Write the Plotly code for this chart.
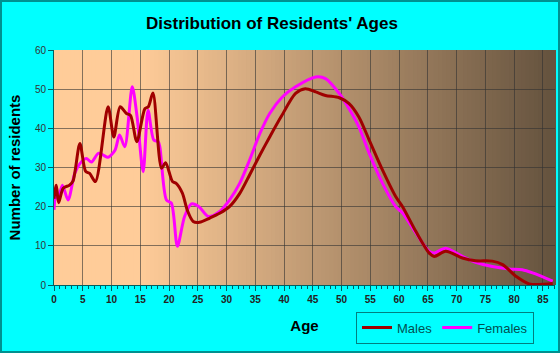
import plotly.graph_objects as go

title_text = "Distribution of Residents' Ages"
x_title = "Age"
y_title = "Number of residents"
x_ticks = list(range(0, 90, 5))
y_ticks = list(range(0, 70, 10))

male_age = [0, 0.4, 0.8, 1.6, 2.7, 3.3, 4.5, 5.5, 6.2, 7.2, 9.4, 10.4, 11.5, 12.6, 13.3,
            14.4, 15.8, 16.4, 17.2, 18.7, 19.4, 20.6, 21.2, 22.3, 23.2, 24.2, 25.3, 27.1,
            28.8, 30.5, 32.3, 34.0, 35.8, 37.5, 39.5, 42.0, 43.7, 45.5, 47.2, 49.6, 51.3,
            53.0, 54.8, 57.1, 59.4, 60.6, 62.9, 65.2, 66.1, 68.1, 71.0, 73.3, 76.2, 78.0,
            80.3, 82.6, 86.7]
male_val = [22, 25.5, 21, 24.7, 25.5, 26.5, 36.1, 29, 28.5, 26.4, 45.5, 37.8, 45.5, 43.8, 43.3,
            36.6, 45, 45.5, 49, 29.8, 31.2, 26.4, 26, 23.5, 19, 16.2, 16, 17.1,
            18.3, 20, 23.4, 28.1, 33.2, 37.8, 43, 48.9, 50.1, 49.3, 48.4, 47.8, 46.3,
            42.9, 37, 29.4, 22.6, 20, 13.7, 8.2, 7.3, 8.6, 6.9, 6.2, 6.1, 5.2,
            2.25, 0.3, 0.4]

female_age = [0, 0.4, 0.7, 1.45, 2.45, 3.6, 4.5, 5.6, 6.5, 7.7, 8.5, 9.4, 10.6, 11.4, 12.3,
              13.6, 14.45, 15.5, 16.35, 17.35, 18.1, 18.4, 19.55, 20.4, 21.45, 22.7, 23.9,
              25.2, 26.8, 28.8, 30.5, 32.3, 34.0, 35.8, 37.5, 39.7, 42.0, 45.5, 47.2, 49.6,
              51.3, 53.0, 54.8, 57.1, 59.4, 60.6, 62.9, 65.2, 66.1, 68.1, 71.0, 73.3, 76.2,
              79.1, 81.4, 83.2, 86.7]
female_val = [19.2, 25.1, 21.7, 25.5, 21.7, 28.5, 31, 32.3, 31.4, 33.6, 33.2, 32.6, 34.4, 38.3, 35.3,
              50.6, 42.9, 28.9, 44.6, 37, 36.6, 35.3, 21.7, 20.9, 9.9, 17.5, 20.7,
              20, 17.5, 18.8, 21.7, 26, 31.9, 38.7, 43.8, 48, 50.6, 53.1, 52.7, 48.9,
              45, 40.4, 33.6, 26, 20, 18.4, 13.3, 8.6, 8.2, 9.4, 7.3, 5.8, 4.7,
              4.1, 3.9, 3.1, 1]

FONT = "Liberation Sans, Arial, sans-serif"

fig = go.Figure()
fig.add_trace(go.Scatter(x=female_age, y=female_val, name="Females", mode="lines",
                         line=dict(color="#FF00FF", width=3, shape="spline", smoothing=0.8)))
fig.add_trace(go.Scatter(x=male_age, y=male_val, name="Males", mode="lines",
                         line=dict(color="#A00000", width=3, shape="spline", smoothing=0.8)))

# gradient background (plot area)
shapes = []
n = 120
c0 = (255, 204, 153)
c1 = (100, 82, 62)
start = 0.17
for i in range(n):
    a = i / n
    b = (i + 1) / n
    mid = (a + b) / 2
    t = 0 if mid < start else (mid - start) / (1 - start)
    col = tuple(int(round(c0[k] + (c1[k] - c0[k]) * t)) for k in range(3))
    shapes.append(dict(type="rect", xref="x domain", yref="y domain", x0=a, x1=b + 0.002,
                       y0=0, y1=1, fillcolor="rgb(%d,%d,%d)" % col, line=dict(width=0),
                       layer="below"))
# outer border of the figure
L, R, T, B = 54, 5, 50, 68
W, H = 560 - L - R, 353 - T - B
shapes.append(dict(type="rect", xref="paper", yref="paper",
                   x0=-(L - 1) / W, x1=1 + (R - 1) / W, y0=-(B - 1) / H, y1=1 + (T - 1) / H,
                   line=dict(color="#009090", width=2), fillcolor="rgba(0,0,0,0)", layer="above"))

fig.update_layout(
    width=560, height=353,
    margin=dict(l=L, r=R, t=T, b=B),
    paper_bgcolor="#00FFFF",
    plot_bgcolor="#FFCC99",
    shapes=shapes,
    title=dict(text="<b>" + title_text + "</b>", x=272 / 560, xref="container", xanchor="center",
               y=1 - 23 / 353, yref="container", yanchor="middle",
               font=dict(family=FONT, size=17, color="#000000")),
    showlegend=True,
    legend=dict(orientation="h", x=(445 - L) / W, y=(285 - 327.5) / H, xanchor="center", yanchor="middle",
                bgcolor="rgba(0,0,0,0)", bordercolor="#008080", borderwidth=1,
                font=dict(family=FONT, size=13, color="#005050"),
                traceorder="reversed", itemwidth=30, tracegroupgap=0),
)
fig.update_xaxes(
    range=[0, 87.1], tickvals=x_ticks, ticktext=["<b>%d</b>" % v for v in x_ticks],
    showgrid=True, gridcolor="rgba(50,50,50,0.6)", gridwidth=1,
    ticks="outside", ticklen=5, tickcolor="#006060",
    minor=dict(dtick=1, ticks="outside", ticklen=3, tickcolor="#006060", showgrid=False),
    showline=True, linecolor="#006060", linewidth=1,
    tickfont=dict(family=FONT, size=10, color="#222222"),
    title=dict(text="<b>" + x_title + "</b>", font=dict(family=FONT, size=15, color="#000000"), standoff=16),
    zeroline=False,
)
fig.update_yaxes(
    range=[0, 60], tickvals=y_ticks,
    showgrid=True, gridcolor="rgba(50,50,50,0.6)", gridwidth=1,
    ticks="outside", ticklen=5, tickcolor="#006060",
    showline=True, linecolor="#006060", linewidth=1,
    tickfont=dict(family=FONT, size=10, color="#333333"),
    title=dict(text="<b>" + y_title + "</b>", font=dict(family=FONT, size=15, color="#000000"), standoff=10),
    zeroline=False,
)

fig.write_html("out.html")
